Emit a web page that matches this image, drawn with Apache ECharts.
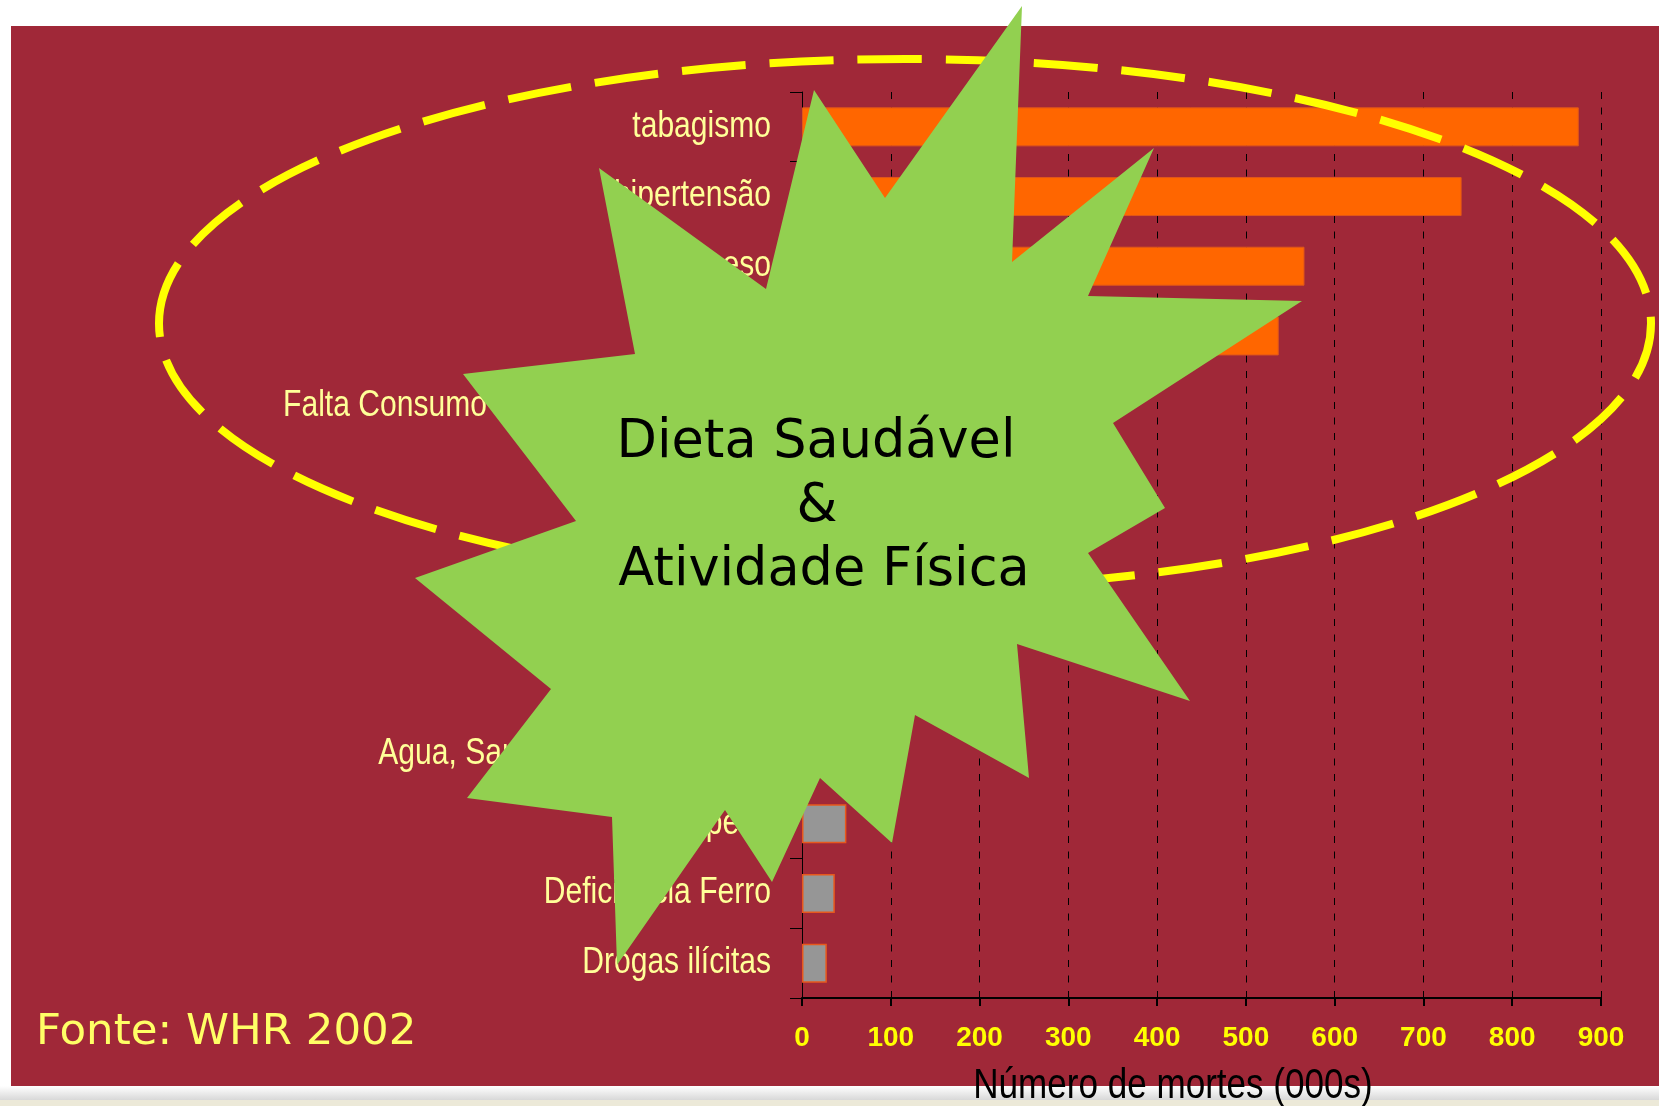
<!DOCTYPE html>
<html>
<head>
<meta charset="utf-8">
<script src="https://cdn.jsdelivr.net/npm/echarts@6/dist/echarts.min.js"></script>
<style>
html,body{margin:0;padding:0;background:#ffffff;}
#c{width:1659px;height:1106px;}
</style>
</head>
<body>
<div id="c"></div>
<script>
// ---- data ----
const categories = [
  'tabagismo', 'hipertensão', 'Sobrepeso', 'Colesterol',
  'Falta Consumo de Frutas e Vegetais', 'Álcool', 'Sedentarismo',
  'Sexo inseguro', 'Poluição do ar', 'Agua, Saneamento e Higiene',
  'Baixo peso', 'Deficiência Ferro', 'Drogas ilícitas'
];
const deaths = [875, 743, 566, 537, 330, 300, 280, 250, 200, 85, 50, 37, 28];
const highlightedRows = 10;      // first rows drawn in orange, the rest in grey
const xMin = 0, xMax = 900, xStep = 100;
const axisTitle = 'Número de mortes (000s)';
const sourceNote = 'Fonte: WHR 2002';
const calloutLines = ['Dieta Saudável', '&', 'Atividade Física'];

// ---- decoration geometry (annotation shapes, not data) ----
const starPoints = [
  [1022,6],[1012,262],[1154,148],[1088,296],[1302,301],[1113,423],[1165,508],
  [1088,553],[1190,701],[1017,644],[1029,778],[915,715],[892,843],[820,778],
  [772,882],[725,810],[617,965],[612,817],[467,798],[551,689],[415,578],
  [576,521],[463,374],[635,354],[599,168],[766,289],[814,90],[885,198]
];

const NARROW = 0.835;   // horizontal squeeze to imitate a narrow face
const labelFont = 'Liberation Sans, Arial, sans-serif';

const chart = echarts.init(document.getElementById('c'), null, {renderer: 'canvas'});

const orangeStyle = {color: '#FF6600', borderColor: '#E0561A', borderWidth: 1};
const greyStyle = {color: '#969696', borderColor: '#E8581C', borderWidth: 1.5};

const baseGraphics = [
  {id: 'bg', type: 'rect', z: -100, shape: {x: 11, y: 26, width: 1648, height: 1060}, style: {fill: '#A02838'}},
  {id: 'strip1', type: 'rect', z: -100, shape: {x: 0, y: 1086, width: 1659, height: 14},
    style: {fill: new echarts.graphic.LinearGradient(0, 0, 0, 1, [{offset: 0, color: '#FFFFFF'}, {offset: 1, color: '#D8D8D8'}])}},
  {id: 'strip2', type: 'rect', z: -100, shape: {x: 0, y: 1100, width: 1659, height: 6}, style: {fill: '#ECE9D8'}},
  {id: 'ellipse', type: 'ellipse', z: 50, shape: {cx: 905, cy: 323.5, rx: 746, ry: 264.5},
    style: {fill: 'none', stroke: '#FFFF00', lineWidth: 8, lineDash: [64, 24]}},
  {id: 'star', type: 'polygon', z: 60, shape: {points: starPoints}, style: {fill: '#92D050'}},
  {id: 'c1', type: 'text', z: 61, x: 816, y: 443, style: {text: calloutLines[0], fill: '#000000', fontSize: 52.5,
    fontFamily: 'DejaVu Sans', textAlign: 'center', textVerticalAlign: 'middle'}},
  {id: 'c2', type: 'text', z: 61, x: 817, y: 507, style: {text: calloutLines[1], fill: '#000000', fontSize: 52.5,
    fontFamily: 'DejaVu Sans', textAlign: 'center', textVerticalAlign: 'middle'}},
  {id: 'c3', type: 'text', z: 61, x: 824, y: 571, style: {text: calloutLines[2], fill: '#000000', fontSize: 52.5,
    fontFamily: 'DejaVu Sans', textAlign: 'center', textVerticalAlign: 'middle'}},
  {id: 'src', type: 'text', z: 61, x: 36, y: 1033, style: {text: sourceNote, fill: '#FFFF66', fontSize: 43.5,
    fontFamily: 'DejaVu Sans', textAlign: 'left', textVerticalAlign: 'middle'}},
  {id: 'title', type: 'text', z: 61, x: 1173, y: 1086, scaleX: NARROW, style: {text: axisTitle, fill: '#000000', fontSize: 42,
    fontFamily: labelFont, textAlign: 'center', textVerticalAlign: 'middle'}}
];

const option = {
  backgroundColor: '#ffffff',
  animation: false,
  grid: {left: 802, top: 92, width: 799, height: 906, containLabel: false, outerBoundsMode: 'none'},
  xAxis: {
    type: 'value', min: xMin, max: xMax, interval: xStep,
    axisLine: {show: true, lineStyle: {color: '#000000', width: 2}},
    axisTick: {show: true, length: 8, lineStyle: {color: '#000000', width: 2}},
    axisLabel: {color: '#FFFF00', fontWeight: 'bold', fontSize: 28, fontFamily: 'Liberation Sans',
      margin: 40, verticalAlign: 'middle'},
    splitLine: {show: true, lineStyle: {color: '#000000', width: 1, type: [7, 8.5]}}
  },
  yAxis: {
    type: 'category', data: categories, inverse: true,
    axisLine: {show: true, lineStyle: {color: '#000000', width: 1}},
    axisTick: {show: true, length: 12, lineStyle: {color: '#000000', width: 1}},
    axisLabel: {show: false},
    splitLine: {show: false}
  },
  series: [{
    type: 'bar',
    barWidth: 39,
    data: deaths.map((v, i) => ({value: v, itemStyle: i < highlightedRows ? orangeStyle : greyStyle}))
  }],
  graphic: {elements: baseGraphics}
};
chart.setOption(option);

// category labels in a squeezed face, placed with the category axis' own scale
const axisX = chart.convertToPixel({xAxisIndex: 0}, xMin);
const labelEls = categories.map((name, i) => ({
  id: 'lab' + i, type: 'text', z: 5,
  x: axisX - 31,
  y: chart.convertToPixel({yAxisIndex: 0}, name),
  scaleX: NARROW,
  style: {text: name, fill: '#FFFF99', fontSize: 36, fontFamily: labelFont,
    textAlign: 'right', textVerticalAlign: 'middle'}
}));
chart.setOption({graphic: {elements: baseGraphics.concat(labelEls)}});
</script>
</body>
</html>
